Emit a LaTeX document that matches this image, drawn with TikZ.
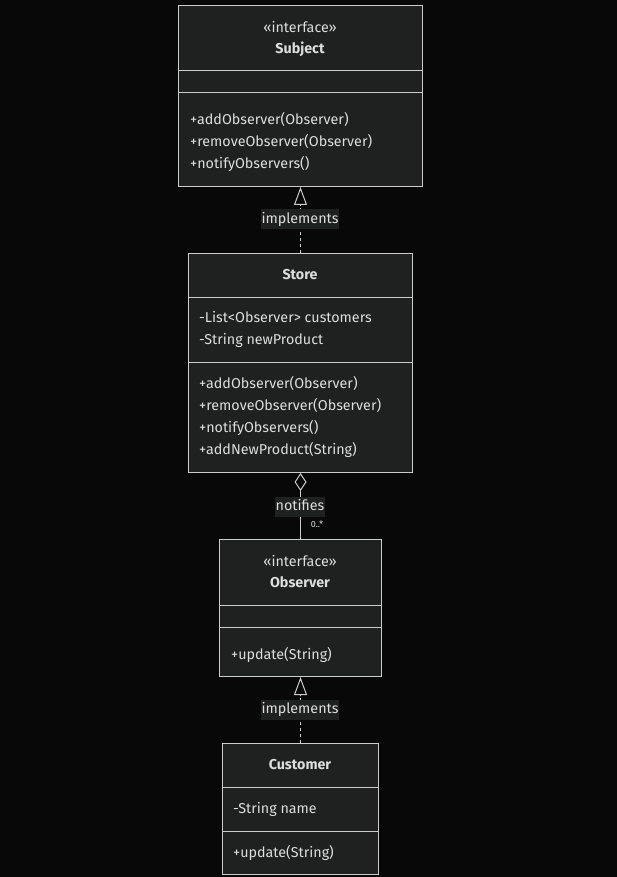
\documentclass[tikz,border=0pt]{standalone}
\usepackage{fontspec}
\setmainfont{Fira Sans}
\usetikzlibrary{arrows.meta}
\definecolor{bg}{HTML}{080808}
\definecolor{boxfill}{HTML}{1F2020}
\definecolor{fg}{HTML}{CCCCCC}
\definecolor{txtc}{HTML}{DDDDDD}
\begin{document}
\begin{tikzpicture}[x=1pt,y=-1pt,
  font=\fontsize{14.3}{16}\selectfont,
  umlbox/.style={draw=fg, fill=boxfill, line width=1pt, inner sep=0pt, anchor=north west},
  divider/.style={draw=fg, line width=1pt},
  txt/.style={text=txtc, inner sep=0pt, text height=10pt, text depth=3pt, yshift=-2pt},
  ltxt/.style={txt, anchor=west},
  ttl/.style={txt, font=\fontsize{14.3}{16}\selectfont\bfseries},
  lbl/.style={text=txtc, fill=boxfill, inner xsep=0.3pt, inner ysep=3.5pt, text height=10pt, text depth=3pt, yshift=-1.5pt},
  conn/.style={draw=fg, line width=1pt},
  dashconn/.style={conn, dash pattern=on 3pt off 3pt},
  realize/.style={-{Triangle[open, length=18pt, width=13pt]}},
  aggr/.style={{Diamond[open, length=18pt, width=12pt]}-},
]
\fill[bg] (0,0) rectangle (617,877);
\useasboundingbox (0,0) rectangle (617,877);

% Subject
\node[umlbox, minimum width=244pt, minimum height=181pt] (subject) at (178,5) {};
\draw[divider] (178,71) -- (422,71);
\draw[divider] (178,93) -- (422,93);
\node[txt] (subjst) at (300,27) {«interface»};
\node[ttl] (subjname) at (300,48) {Subject};
\node[ltxt] (subjm1) at (190,119) {+addObserver(Observer)};
\node[ltxt] (subjm2) at (190,141) {+removeObserver(Observer)};
\node[ltxt] (subjm3) at (190,163) {+notifyObservers()};

% Store
\node[umlbox, minimum width=224pt, minimum height=219pt] (store) at (188,253) {};
\draw[divider] (188,297) -- (412,297);
\draw[divider] (188,362) -- (412,362);
\node[ttl] (storename) at (300,274) {Store};
\node[ltxt] (storea1) at (199,317) {-List<Observer> customers};
\node[ltxt] (storea2) at (199,339) {-String newProduct};
\node[ltxt] (storem1) at (199,383) {+addObserver(Observer)};
\node[ltxt] (storem2) at (199,405) {+removeObserver(Observer)};
\node[ltxt] (storem3) at (199,427) {+notifyObservers()};
\node[ltxt] (storem4) at (199,449) {+addNewProduct(String)};

% Observer
\node[umlbox, minimum width=162pt, minimum height=137pt] (observer) at (219,539) {};
\draw[divider] (219,605) -- (381,605);
\draw[divider] (219,627) -- (381,627);
\node[txt] (obsst) at (300,561) {«interface»};
\node[ttl] (obsname) at (300,582) {Observer};
\node[ltxt] (obsm1) at (231,654) {+update(String)};

% Customer
\node[umlbox, minimum width=156pt, minimum height=131pt] (customer) at (222,743) {};
\draw[divider] (222,787) -- (378,787);
\draw[divider] (222,831) -- (378,831);
\node[ttl] (custname) at (300,764) {Customer};
\node[ltxt] (custa1) at (233,808) {-String name};
\node[ltxt] (custm1) at (233,852) {+update(String)};

% Connectors
\draw[dashconn, realize] (store.north) -- (subject.south);
\node[lbl] (impl1) at (300,218) {implements};

\draw[conn, aggr] (store.south) -- (observer.north);
\node[lbl] (notif) at (300,505) {notifies};
\node[text=txtc, font=\fontsize{9}{10}\selectfont, inner sep=0pt] (mult) at (317,524) {0..*};

\draw[dashconn, realize] (customer.north) -- (observer.south);
\node[lbl] (impl2) at (300,708) {implements};
\end{tikzpicture}
\end{document}
